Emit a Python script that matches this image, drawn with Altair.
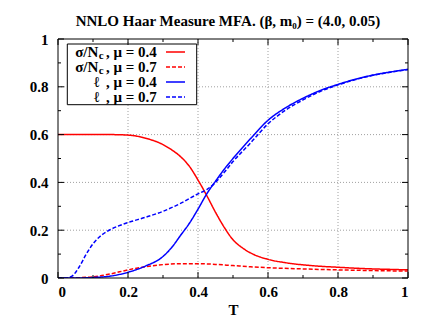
import altair as alt
import pandas as pd

# ---- data ----
# sigma/N_c, mu = 0.4
T_s04 = [0, 0.05, 0.1, 0.15, 0.2, 0.25, 0.3, 0.325, 0.35, 0.375, 0.4, 0.425, 0.45, 0.475, 0.5,
         0.525, 0.55, 0.6, 0.65, 0.7, 0.75, 0.8, 0.85, 0.9, 0.95, 1.0]
s04 = [0.600, 0.600, 0.600, 0.600, 0.598, 0.585, 0.558, 0.536, 0.508, 0.468, 0.410, 0.345, 0.275,
       0.212, 0.160, 0.128, 0.105, 0.078, 0.064, 0.055, 0.049, 0.045, 0.041, 0.038, 0.036, 0.034]

# sigma/N_c, mu = 0.7
T_s07 = [0, 0.05, 0.1, 0.15, 0.2, 0.25, 0.3, 0.35, 0.4, 0.45, 0.5, 0.55, 0.6, 0.7, 0.8, 0.9, 1.0]
s07 = [0.0, 0.001, 0.005, 0.017, 0.034, 0.047, 0.056, 0.060, 0.060, 0.057, 0.052, 0.047, 0.043,
       0.038, 0.034, 0.031, 0.029]

# l, mu = 0.4
T_l04 = [0, 0.05, 0.1, 0.15, 0.2, 0.25, 0.3, 0.325, 0.35, 0.375, 0.4, 0.425, 0.45, 0.475, 0.5,
         0.55, 0.6, 0.65, 0.7, 0.75, 0.8, 0.85, 0.9, 0.95, 1.0]
l04 = [0.0, 0.0, 0.002, 0.008, 0.024, 0.050, 0.090, 0.128, 0.178, 0.228, 0.288, 0.352, 0.405,
       0.455, 0.500, 0.583, 0.660, 0.712, 0.752, 0.785, 0.810, 0.832, 0.849, 0.862, 0.873]

# l, mu = 0.7
T_l07 = [0, 0.02, 0.04, 0.06, 0.08, 0.1, 0.125, 0.15, 0.175, 0.2, 0.25, 0.3, 0.35, 0.4, 0.425,
         0.45, 0.475, 0.5, 0.55, 0.6, 0.65, 0.7, 0.75, 0.8, 0.85, 0.9, 0.95, 1.0]
l07 = [0.0, 0.0, 0.008, 0.045, 0.098, 0.143, 0.180, 0.203, 0.219, 0.232, 0.254, 0.279, 0.312,
       0.352, 0.370, 0.400, 0.442, 0.487, 0.565, 0.645, 0.702, 0.745, 0.781, 0.808, 0.830,
       0.848, 0.861, 0.872]

series_names = ["s04", "s07", "l04", "l07"]
series_colors = ["#ff0000", "#ff0000", "#0000ff", "#0000ff"]
series_dashes = [[1, 0], [4, 2], [1, 0], [4, 2]]

major_ticks = [0, 0.2, 0.4, 0.6, 0.8, 1.0]
minor_ticks = [0.1, 0.3, 0.5, 0.7, 0.9]
grid_ticks = [0.2, 0.4, 0.6, 0.8]

title_text = "NNLO Haar Measure MFA. (\u03b2, m\u2080) = (4.0, 0.05)"
legend_mu = ["0.4", "0.7", "0.4", "0.7"]

# ---- build tables ----
rows = []
for name, Ts, vs in [("s04", T_s04, s04), ("s07", T_s07, s07), ("l04", T_l04, l04), ("l07", T_l07, l07)]:
    for t, v in zip(Ts, vs):
        rows.append({"series": name, "T": t, "v": v})
df = pd.DataFrame(rows)

W, H = 350, 239
FONT = "Liberation Serif"

xs = alt.Scale(domain=[0, 1], nice=False, zero=False)
ys = alt.Scale(domain=[0, 1], nice=False, zero=False)
x_axis = alt.Axis(values=major_ticks, format="~g", title="T", grid=False, ticks=False,
                  domain=False, labelPadding=6, titlePadding=3)
y_axis = alt.Axis(values=major_ticks, format="~g", title=None, grid=False, ticks=False,
                  domain=False, labelPadding=10)

def X(f):
    return alt.X(f, scale=xs, axis=x_axis, title="T")

def Y(f):
    return alt.Y(f, scale=ys, axis=y_axis, title=None)

one = pd.DataFrame({"a": [0]})

grid_x = alt.Chart(pd.DataFrame({"g": grid_ticks})).mark_rule(
    color="#a0a0a0", strokeWidth=1, strokeDash=[1, 2]).encode(
    x=X("g:Q"), y=alt.value(0), y2=alt.value(H))
grid_y = alt.Chart(pd.DataFrame({"g": grid_ticks})).mark_rule(
    color="#a0a0a0", strokeWidth=1, strokeDash=[1, 2]).encode(
    y=Y("g:Q"), x=alt.value(0), x2=alt.value(W))

lines = alt.Chart(df).mark_line(strokeWidth=1.5, interpolate="monotone", clip=True).encode(
    x=X("T:Q"),
    y=Y("v:Q"),
    color=alt.Color("series:N", scale=alt.Scale(domain=series_names, range=series_colors), legend=None),
    strokeDash=alt.StrokeDash("series:N", scale=alt.Scale(domain=series_names, range=series_dashes), legend=None),
    detail="series:N",
)

def xticks(vals, length):
    d = pd.DataFrame({"t": vals})
    bot = alt.Chart(d).mark_rule(color="black", strokeWidth=1).encode(
        x=X("t:Q"), y=alt.value(H), y2=alt.value(H - length))
    top = alt.Chart(d).mark_rule(color="black", strokeWidth=1).encode(
        x=X("t:Q"), y=alt.value(0), y2=alt.value(length))
    return [bot, top]

def yticks(vals, length):
    d = pd.DataFrame({"t": vals})
    left = alt.Chart(d).mark_rule(color="black", strokeWidth=1).encode(
        y=Y("t:Q"), x=alt.value(0), x2=alt.value(length))
    right = alt.Chart(d).mark_rule(color="black", strokeWidth=1).encode(
        y=Y("t:Q"), x=alt.value(W), x2=alt.value(W - length))
    return [left, right]

tick_layers = xticks(major_ticks, 6) + xticks(minor_ticks, 3) + yticks(major_ticks, 6) + yticks(minor_ticks, 3)

border = alt.Chart(one).mark_rect(fill=None, stroke="black", strokeWidth=1).encode(
    x=alt.value(0), x2=alt.value(W), y=alt.value(0), y2=alt.value(H))

# legend
leg_box = alt.Chart(one).mark_rect(fill="white", stroke="black", strokeWidth=1).encode(
    x=alt.value(9.3), x2=alt.value(138.7), y=alt.value(5), y2=alt.value(65.7))

leg_layers = [leg_box]
row_y = [13, 28, 43, 58]
txt = dict(font=FONT, fontWeight="bold", fontSize=15, color="black", baseline="middle")
for i, name in enumerate(series_names):
    y = row_y[i]
    leg_layers.append(alt.Chart(one).mark_text(align="right", **txt).encode(
        x=alt.value(98.7), y=alt.value(y), text=alt.value(", \u03bc = " + legend_mu[i])))
    if name.startswith("s"):
        leg_layers.append(alt.Chart(one).mark_text(align="right", **txt).encode(
            x=alt.value(40.3), y=alt.value(y), text=alt.value("\u03c3/N")))
        sub = dict(txt)
        sub["fontSize"] = 11
        leg_layers.append(alt.Chart(one).mark_text(align="left", **sub).encode(
            x=alt.value(40.8), y=alt.value(y + 4), text=alt.value("c")))
    else:
        leg_layers.append(alt.Chart(one).mark_text(align="right", **txt).encode(
            x=alt.value(41.3), y=alt.value(y), text=alt.value("\u2113")))
    leg_layers.append(alt.Chart(one).mark_rule(
        color=series_colors[i], strokeWidth=1.5, strokeDash=series_dashes[i]).encode(
        x=alt.value(108), x2=alt.value(127), y=alt.value(y)))

title = alt.Chart(one).mark_text(align="center", baseline="alphabetic", font=FONT,
                                 fontWeight="bold", fontSize=15, color="black").encode(
    x=alt.value(170), y=alt.value(-13), text=alt.value(title_text))

chart = alt.layer(grid_x, grid_y, lines, *leg_layers, *tick_layers, border, title).properties(
    width=W, height=H,
    padding={"left": 50, "top": 31, "right": 20, "bottom": 40},
    autosize="none",
).configure_view(stroke=None).configure_axis(
    labelFont=FONT, labelFontWeight="bold", labelFontSize=15, labelColor="black",
    titleFont=FONT, titleFontWeight="bold", titleFontSize=15, titleColor="black",
)

chart.save("out.html", embed_options={"renderer": "svg", "actions": False})
